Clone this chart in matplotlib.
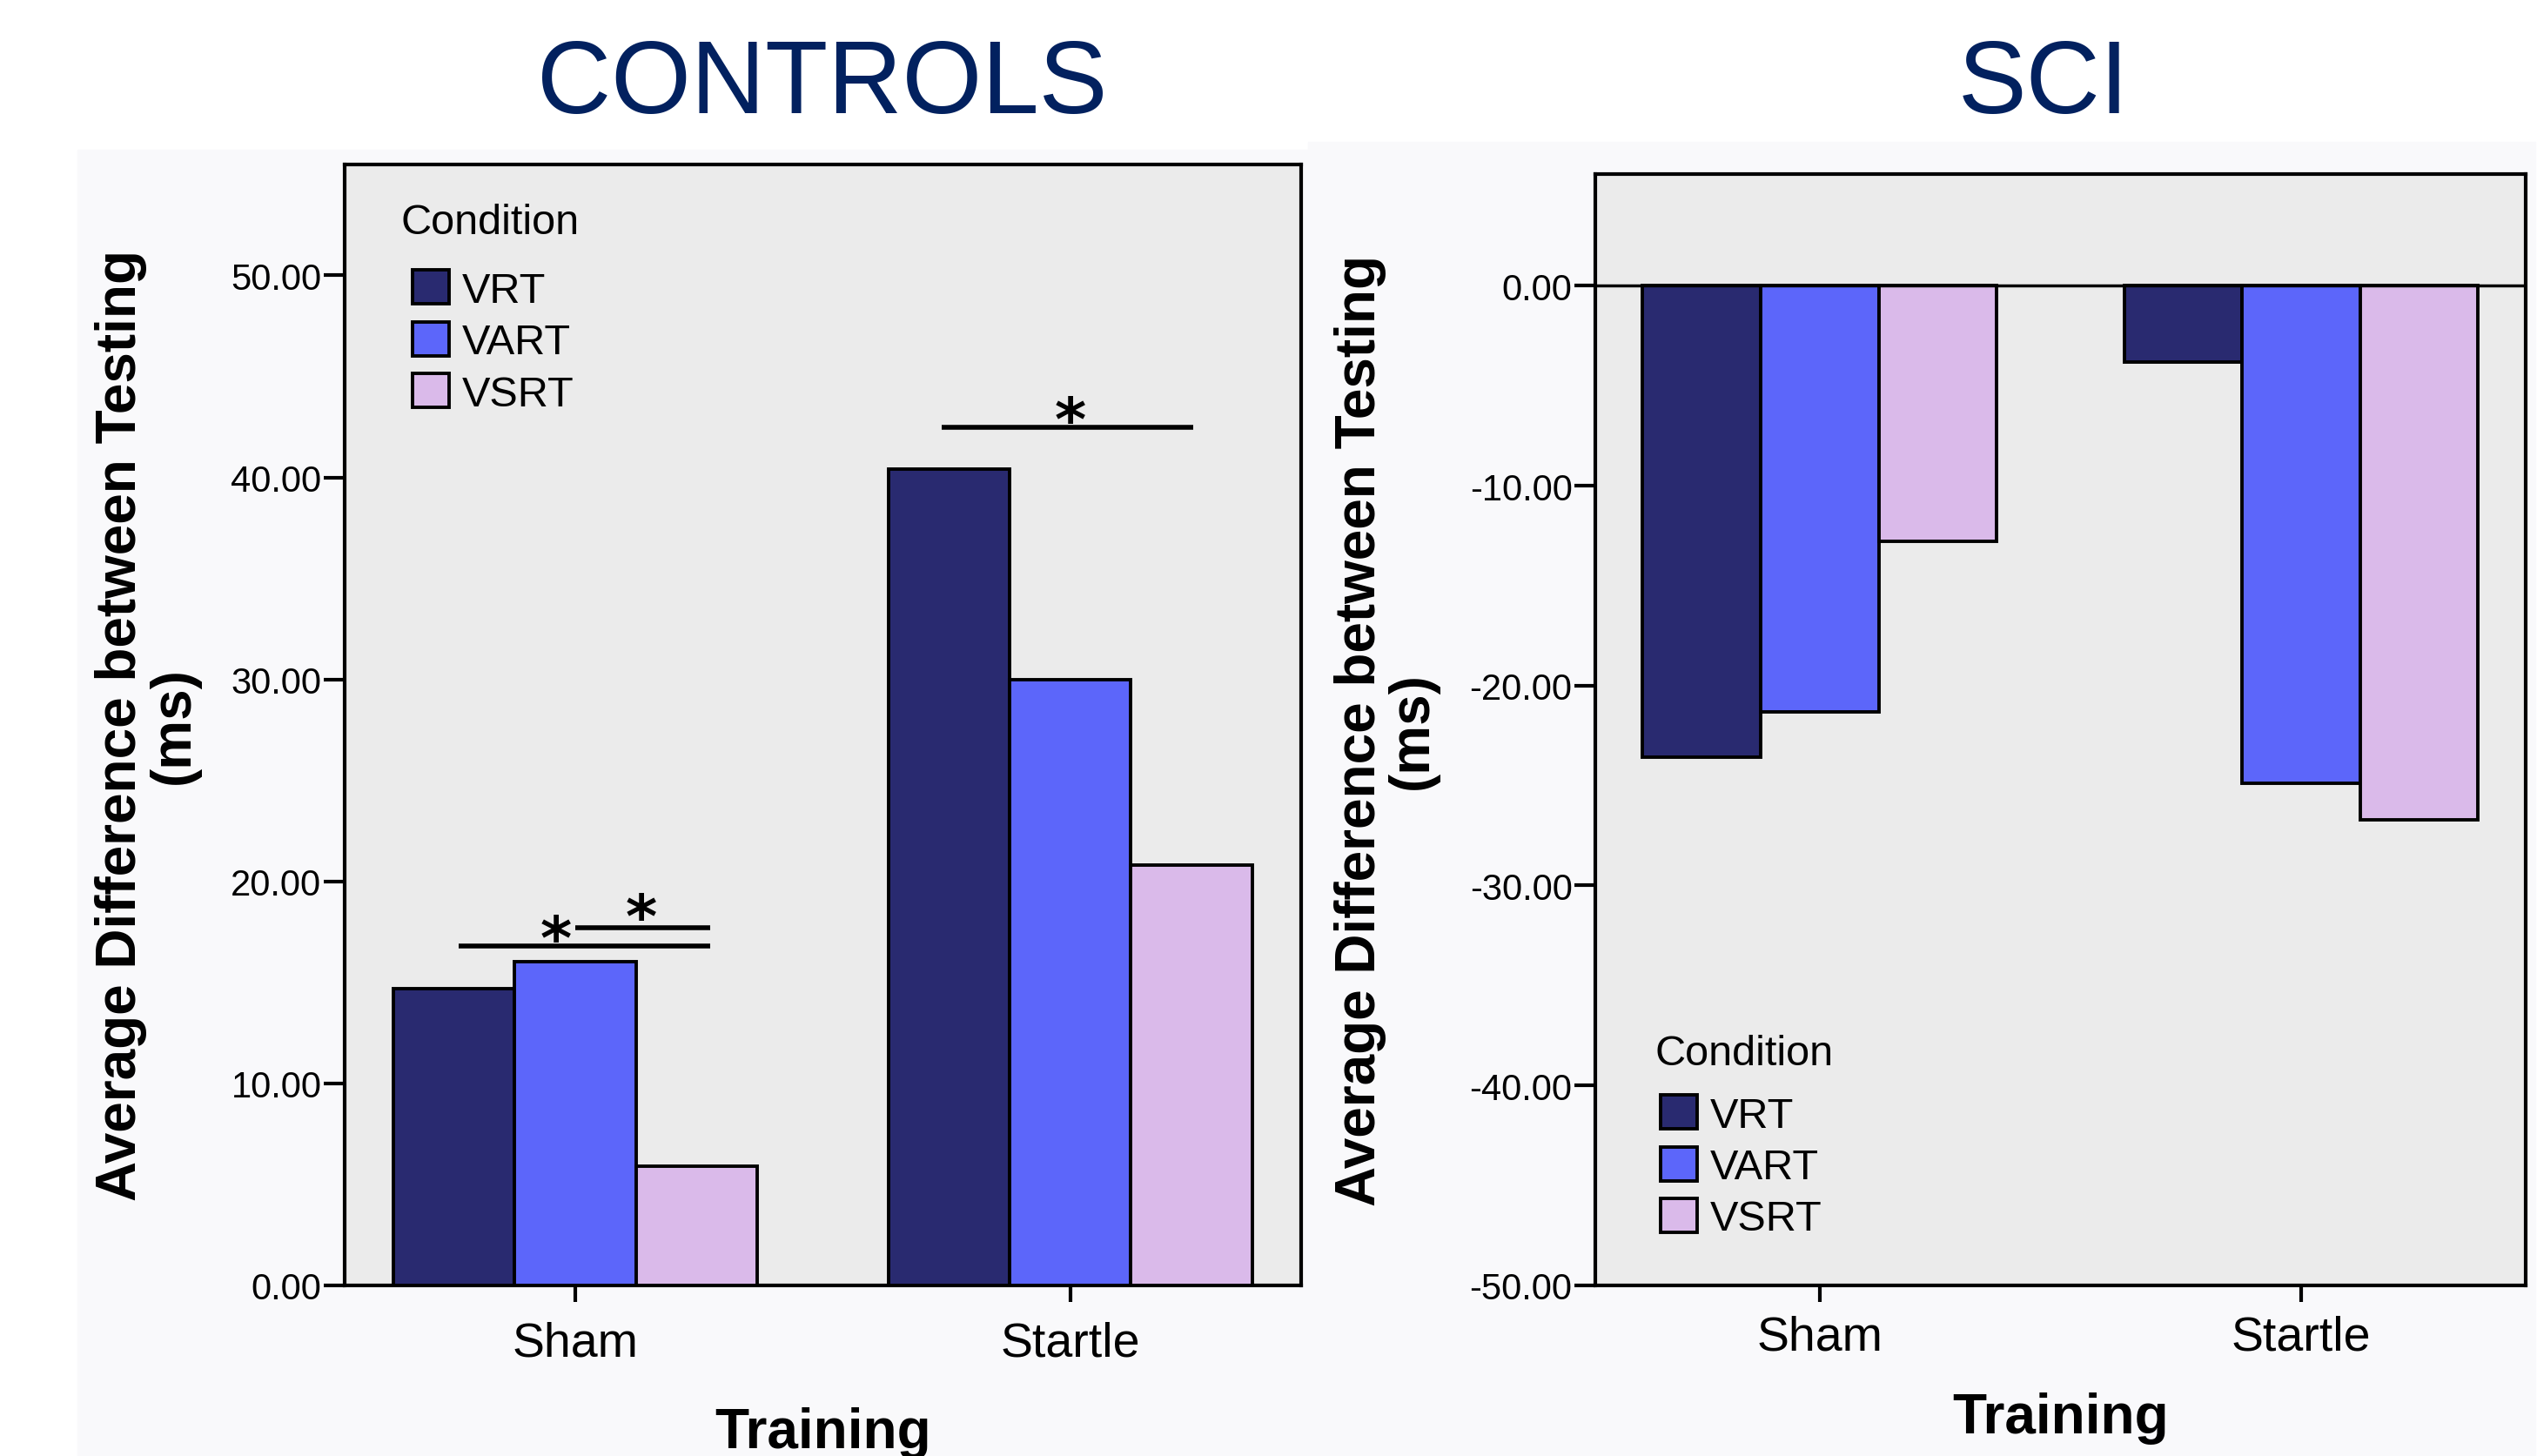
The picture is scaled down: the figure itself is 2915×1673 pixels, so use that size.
"""
Controls vs SCI: average difference between testing, by training and condition.
"""

import numpy as np
import matplotlib.pyplot as plt
from matplotlib.patches import Rectangle

plt.rcParams["font.family"] = ["Liberation Sans", "DejaVu Sans"]

TRAINING = ["Sham", "Startle"]
CONDITIONS = ["VRT", "VART", "VSRT"]
COLORS = ["#292a70", "#5c66fa", "#dabaea"]

# CONTROLS panel (ms)
controls_vrt = [14.7, 40.4]
controls_vart = [16.0, 30.0]
controls_vsrt = [5.9, 20.8]

# SCI panel (ms)
sci_vrt = [-23.6, -3.8]
sci_vart = [-21.3, -24.9]
sci_vsrt = [-12.8, -26.7]

# significance marks on the CONTROLS panel: lines (x0, x1, y), stars (x, y)
sig_lines = [(-0.236, 0.272, 16.8), (0.0, 0.272, 17.7), (0.74, 1.249, 42.5)]
sig_stars = [(-0.039, 17.8), (0.134, 18.9), (1.0, 43.5)]

W = 0.245
LW = 3.0
YLABEL = "Average Difference between Testing\n(ms)"


def draw_panel(ax, series, ylim, yticks):
    x = np.arange(len(TRAINING))
    for i, (vals, name, col) in enumerate(zip(series, CONDITIONS, COLORS)):
        ax.bar(x + (i - 1) * W, vals, W, color=col, edgecolor="black",
               linewidth=2.8, label=name, zorder=3)
    ax.set_facecolor("#ebebeb")
    ax.set_xlim(-0.466, 1.466)
    ax.set_ylim(*ylim)
    ax.set_yticks(yticks)
    ax.set_yticklabels([f"{v:.2f}" for v in yticks])
    ax.set_xticks(x)
    ax.set_xticklabels(TRAINING)
    for sp in ax.spines.values():
        sp.set_linewidth(LW)
    ax.tick_params(axis="y", length=17, width=3, pad=2, labelsize=30)
    ax.tick_params(axis="x", length=14, width=3, pad=15, labelsize=40)
    ax.set_ylabel(YLABEL, fontsize=46, fontweight="bold", linespacing=1.0,
                  va="center")
    ax.set_xlabel("Training", fontsize=46, fontweight="bold", va="center")


def add_legend(ax, title_pos, anchor):
    ax.text(*title_pos, "Condition", transform=ax.transAxes, fontsize=35,
            ha="left", va="baseline", zorder=5)
    ax.legend(loc="center left", bbox_to_anchor=anchor,
              frameon=False, fontsize=35,
              handlelength=0.86, handleheight=0.86, handletextpad=0.31,
              labelspacing=0.27, borderpad=0, borderaxespad=0)


def main():
    fig = plt.figure(figsize=(29.15, 16.74), dpi=100)
    fig.patches.append(Rectangle((0.0305, 0), 0.4851, 0.8967, color="#f9f9fb",
                                 transform=fig.transFigure, zorder=-1))
    fig.patches.append(Rectangle((0.5156, 0), 0.4837, 0.902, color="#f9f9fb",
                                 transform=fig.transFigure, zorder=-1))

    # CONTROLS ----------------------------------------------------------------
    ax1 = fig.add_axes([0.1358, 0.1172, 0.3770, 0.7694])
    draw_panel(ax1, [controls_vrt, controls_vart, controls_vsrt],
               (0, 55.5), np.arange(0, 51, 10))
    ax1.yaxis.set_label_coords(-0.206, 0.5)
    ax1.xaxis.set_label_coords(0.5, -0.1315)
    add_legend(ax1, (0.059, 0.9387), (0.071, 0.8416))

    for x0, x1, y in sig_lines:
        ax1.plot([x0, x1], [y, y], color="black", lw=4, solid_capstyle="butt",
                 zorder=4)
    for x, y in sig_stars:
        ax1.annotate("*", (x, y), xytext=(0, -27), textcoords="offset points",
                     ha="center", va="baseline", fontsize=50,
                     fontweight="bold", family="DejaVu Sans", zorder=5)

    # SCI ---------------------------------------------------------------------
    ax2 = fig.add_axes([0.6288, 0.1172, 0.3667, 0.7628])
    draw_panel(ax2, [sci_vrt, sci_vart, sci_vsrt],
               (-50, 5.6), np.arange(-50, 1, 10))
    ax2.axhline(0, color="black", lw=2.5, zorder=4)
    ax2.yaxis.set_label_coords(-0.2245, 0.5)
    ax2.xaxis.set_label_coords(0.5, -0.1195)
    ax2.tick_params(axis="x", pad=10)
    add_legend(ax2, (0.0645, 0.1989), (0.070, 0.1065))

    # titles
    fig.text(0.3240, 0.9223, "CONTROLS", ha="center", va="baseline",
             fontsize=85, color="#02215f")
    fig.text(0.8055, 0.9223, "SCI", ha="center", va="baseline",
             fontsize=85, color="#02215f")

    fig.savefig("out.png", dpi=100)


if __name__ == "__main__":
    main()
